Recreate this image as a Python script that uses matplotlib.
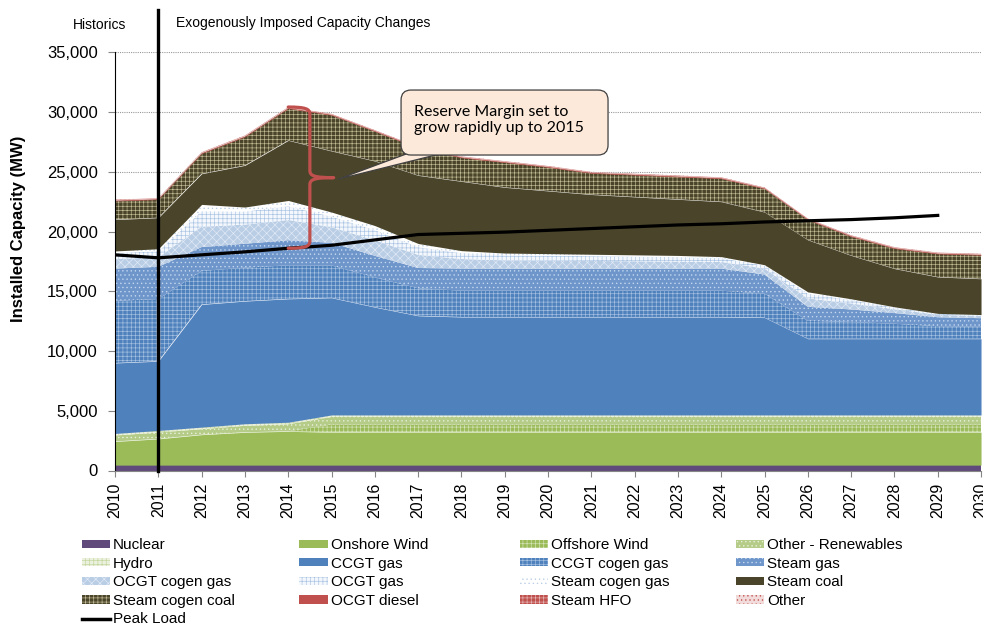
import numpy as np
import matplotlib
matplotlib.use("Agg")
import matplotlib.pyplot as plt
import matplotlib.patches as mpatches
from matplotlib.lines import Line2D
from matplotlib.path import Path
from matplotlib.ticker import FuncFormatter

plt.rcParams['font.family'] = ['Liberation Sans', 'DejaVu Sans']
plt.rcParams['hatch.linewidth'] = 0.45

years = np.arange(2010, 2031)

# installed capacity by technology (MW), 2010-2030
nuclear = [450] * 21
onshore_wind = [1980, 2200, 2550, 2750, 2830] + [2750] * 16
offshore_wind = [0, 0, 0, 0, 0] + [650] * 16
other_renewables = [500, 530, 460, 540, 590] + [630] * 16
hydro = [170] * 21
ccgt_gas = [5900, 5800, 10270, 10270, 10330, 9810, 9020, 8300,
            8200, 8200, 8200, 8200, 8200, 8200, 8200, 8150,
            6380, 6380, 6380, 6380, 6380]
ccgt_cogen_gas = [5200, 5200, 2800, 2800, 2800, 2700, 2500, 2300,
                  2200, 2200, 2200, 2200, 2200, 2200, 2200, 2000,
                  1500, 1400, 1250, 1050, 1000]
steam_gas = [2700, 2700, 2000, 2000, 2100, 1900, 1800, 1700,
             1850, 1840, 1840, 1840, 1840, 1840, 1850, 1600,
             1170, 1050, 900, 750, 720]
ocgt_cogen_gas = [800, 800, 1700, 1600, 1700, 1300, 1300, 1100,
                  800, 700, 680, 650, 620, 590, 560, 500,
                  700, 500, 320, 200, 190]
ocgt_gas = [500, 500, 1300, 1100, 1150, 900, 850, 650,
            500, 430, 410, 400, 390, 380, 320, 250,
            400, 290, 150, 90, 80]
steam_cogen_gas = [175, 210, 570, 370, 480, 370, 380, 300,
                   200, 180, 170, 160, 150, 140, 120, 70,
                   150, 100, 50, 30, 30]
steam_coal = [2630, 2600, 2570, 3490, 5030, 5110, 5400, 5700,
              5800, 5500, 5250, 5000, 4850, 4700, 4600, 4410,
              4350, 3630, 3200, 3050, 3000]
steam_cogen_coal = [1560, 1520, 1690, 2390, 2670, 3000, 2480, 2280,
                    1980, 2080, 1980, 1780, 1830, 1880, 1930, 1950,
                    1680, 1580, 1680, 1930, 1980]
ocgt_diesel = [60] * 21
steam_hfo = [40] * 21
other = [20] * 21

peak_years = np.arange(2010, 2030)
peak_load = [18050, 17800, 18050, 18300, 18600, 18850, 19300, 19750, 19850, 19950,
             20100, 20250, 20400, 20550, 20650, 20800, 20900, 21000, 21150, 21350]

layers = [nuclear, onshore_wind, offshore_wind, other_renewables, hydro,
          ccgt_gas, ccgt_cogen_gas, steam_gas, ocgt_cogen_gas, ocgt_gas,
          steam_cogen_gas, steam_coal, steam_cogen_coal, ocgt_diesel,
          steam_hfo, other]
names = ['Nuclear', 'Onshore Wind', 'Offshore Wind', 'Other - Renewables', 'Hydro',
         'CCGT gas', 'CCGT cogen gas', 'Steam gas', 'OCGT cogen gas', 'OCGT gas',
         'Steam cogen gas', 'Steam coal', 'Steam cogen coal', 'OCGT diesel',
         'Steam HFO', 'Other']
# (face colour, hatch pattern, hatch colour)
styles = [('#604A7B', None, '#604A7B'),
          ('#9BBB59', None, '#9BBB59'),
          ('#9BBB59', '++++', '#D7E4BD'),
          ('#B5CC88', '....', '#EBF1DE'),
          ('#EBF1DE', '++++', '#C3D69B'),
          ('#4F81BD', None, '#4F81BD'),
          ('#4F81BD', '++++', '#A8C2E2'),
          ('#6F96CA', '....', '#C6D9F1'),
          ('#B9CDE5', 'xxxx', '#E4ECF7'),
          ('#F4F8FC', '++++', '#A8C2E2'),
          ('#FFFFFF', '....', '#B9CDE5'),
          ('#4A452A', None, '#4A452A'),
          ('#4A452A', '++++', '#C4BD97'),
          ('#C0504D', None, '#C0504D'),
          ('#C0504D', '++++', '#E6B9B8'),
          ('#F2DCDB', '....', '#C0504D')]

fig = plt.figure(figsize=(9.83, 6.25), dpi=100)
ax = fig.add_axes([0.117, 0.2472, 0.881, 0.6691])

polys = ax.stackplot(years, *layers, colors=[s[0] for s in styles], lw=0)
for poly, (fc, hatch, hc) in zip(polys, styles):
    poly.set_edgecolor(hc)
    poly.set_linewidth(0)
    if hatch:
        poly.set_hatch(hatch)

ax.plot(peak_years, peak_load, color='black', lw=2.3, zorder=4)

# divider between historic and projected years
ax.plot([2011, 2011], [0, 38540], color='black', lw=2.4, clip_on=False, zorder=5)

ax.set_xlim(2010, 2030)
ax.set_ylim(0, 35000)
ax.set_xticks(years)
ax.set_xticklabels([str(y) for y in years], rotation=90, fontsize=11.5)
ax.set_yticks(np.arange(0, 35001, 5000))
ax.yaxis.set_major_formatter(FuncFormatter(lambda v, p: f'{v:,.0f}'))
ax.tick_params(axis='y', labelsize=12, length=5, color='#868686', pad=7.5)
ax.tick_params(axis='x', length=4, color='#868686', pad=5)
ax.set_axisbelow(True)
ax.grid(axis='y', color='#999999', lw=0.8, ls=(0, (1, 1)))
for s in ['top', 'right']:
    ax.spines[s].set_visible(False)
ax.spines['left'].set_color('black')
ax.spines['bottom'].set_color('#868686')

ax.set_ylabel('Installed Capacity (MW)', fontsize=12, fontweight='bold', va='center')
ax.yaxis.set_label_coords(-0.112, 0.5775)

fig.text(100 / 983, 0.96, 'Historics', fontsize=10, ha='center', va='center')
fig.text(176 / 983, 0.963, 'Exogenously Imposed Capacity Changes', fontsize=10,
         ha='left', va='center')

# red brace spanning peak load to total capacity in 2014
i14 = 4
y_top = float(np.sum([l[i14] for l in layers]))
y_bot = float(peak_load[i14])
y_mid = (y_top + y_bot) / 2
xl, xv, xt = 2014.0, 2014.5, 2015.05
verts = [(xl, y_top), (xv - 0.1, y_top), (xv, y_top - 150), (xv, y_top - 600),
         (xv, y_mid + 600),
         (xv, y_mid + 150), (xv + 0.1, y_mid), (xt, y_mid),
         (xv + 0.1, y_mid), (xv, y_mid - 150), (xv, y_mid - 600),
         (xv, y_bot + 600),
         (xv, y_bot + 150), (xv - 0.1, y_bot), (xl, y_bot)]
codes = [Path.MOVETO, Path.CURVE4, Path.CURVE4, Path.CURVE4,
         Path.LINETO,
         Path.CURVE4, Path.CURVE4, Path.CURVE4,
         Path.CURVE4, Path.CURVE4, Path.CURVE4,
         Path.LINETO,
         Path.CURVE4, Path.CURVE4, Path.CURVE4]
ax.add_patch(mpatches.PathPatch(Path(verts, codes), fill=False, color='#C0504D',
                                lw=2.3, capstyle='round', joinstyle='round', zorder=6))

# callout
tip = (2015.15, 24380)
wedge = mpatches.Polygon([tip, (2017.27, 27220), (2018.31, 27220)], closed=True,
                         fc='#FDE9D9', ec='#404040', lw=0.9, zorder=7)
ax.add_patch(wedge)
box = mpatches.FancyBboxPatch((0.3303, 0.7544), 0.239, 0.1554,
                              boxstyle='round,pad=0,rounding_size=0.0115',
                              mutation_aspect=866 / 418.2, transform=ax.transAxes,
                              fc='#FDE9D9', ec='#404040', lw=0.9, zorder=8)
ax.add_patch(box)
ax.text(0.3453, 0.838, 'Reserve Margin set to\ngrow rapidly up to 2015',
        transform=ax.transAxes, fontsize=11.5, family='Lato', ha='left', va='center',
        linespacing=1.25, zorder=9)

# legend, four columns filled row by row
handles = []
for (fc, hatch, hc) in styles:
    handles.append(mpatches.Patch(facecolor=fc, edgecolor=hc, hatch=hatch, lw=0))
handles.append(Line2D([0], [0], color='black', lw=2.5))
labels = names + ['Peak Load']

col_x = [81.7, 299.3, 520, 736]
for c in range(4):
    idx = list(range(c, len(labels), 4))
    leg = fig.legend([handles[i] for i in idx], [labels[i] for i in idx],
                     loc='upper left', bbox_to_anchor=(col_x[c] / 983, 0.139),
                     frameon=False, fontsize=11, borderpad=0, borderaxespad=0,
                     handlelength=1.85, handleheight=0.45, handletextpad=0.2,
                     labelspacing=0.3)

fig.savefig('out.png', dpi=100)
